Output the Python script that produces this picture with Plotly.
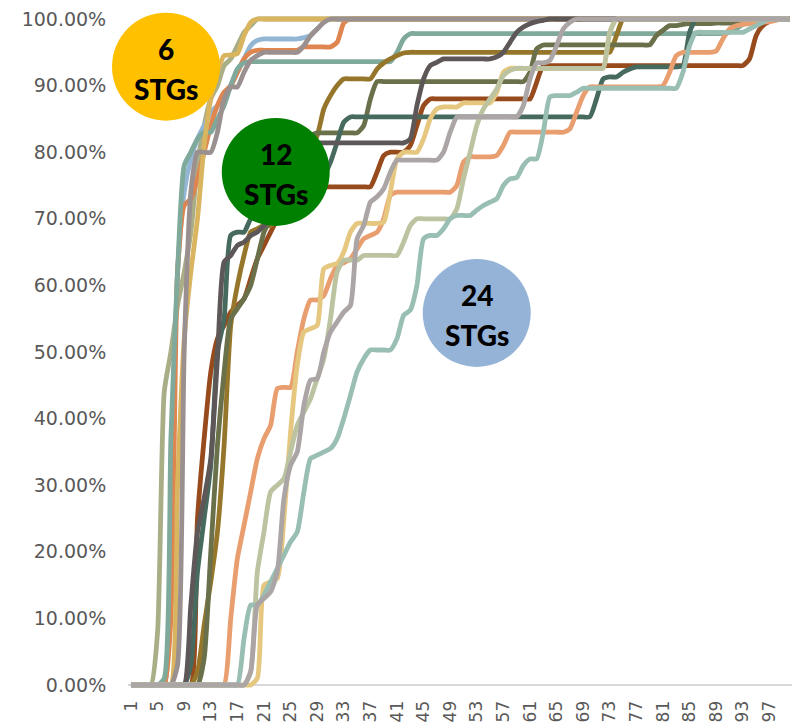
import plotly.graph_objects as go

# Run index along the x axis (category positions 1..100)
steps = list(range(1, 101))

x_ticks = [1, 5, 9, 13, 17, 21, 25, 29, 33, 37, 41, 45, 49, 53, 57, 61, 65, 69, 73, 77, 81, 85, 89, 93, 97]
y_ticks = [0, 10, 20, 30, 40, 50, 60, 70, 80, 90, 100]
y_tick_text = ["0.00%", "10.00%", "20.00%", "30.00%", "40.00%", "50.00%",
               "60.00%", "70.00%", "80.00%", "90.00%", "100.00%"]

# ---- 6 STGs ----
sage_6 = [
    0, 0, 0, 0, 8, 44, 50, 57, 62, 68,
    78, 84, 88, 90, 93, 94, 96, 98, 99, 100,
    100, 100, 100, 100, 100, 100, 100, 100, 100, 100,
    100, 100, 100, 100, 100, 100, 100, 100, 100, 100,
    100, 100, 100, 100, 100, 100, 100, 100, 100, 100,
    100, 100, 100, 100, 100, 100, 100, 100, 100, 100,
    100, 100, 100, 100, 100, 100, 100, 100, 100, 100,
    100, 100, 100, 100, 100, 100, 100, 100, 100, 100,
    100, 100, 100, 100, 100, 100, 100, 100, 100, 100,
    100, 100, 100, 100, 100, 100, 100, 100, 100, 100,
]
blue_6 = [
    0, 0, 0, 0, 0, 0, 30, 62, 74, 79,
    82, 84, 86, 87, 88, 90, 92, 94, 96, 96.8,
    97, 97, 97, 97, 97, 97, 97.2, 97.5, 98.5, 99.5,
    100, 100, 100, 100, 100, 100, 100, 100, 100, 100,
    100, 100, 100, 100, 100, 100, 100, 100, 100, 100,
    100, 100, 100, 100, 100, 100, 100, 100, 100, 100,
    100, 100, 100, 100, 100, 100, 100, 100, 100, 100,
    100, 100, 100, 100, 100, 100, 100, 100, 100, 100,
    100, 100, 100, 100, 100, 100, 100, 100, 100, 100,
    100, 100, 100, 100, 100, 100, 100, 100, 100, 100,
]
orange_6 = [
    0, 0, 0, 0, 0, 0, 10, 62, 72, 73,
    76, 80, 84, 87, 89, 90, 92, 94, 95, 95.3,
    95.3, 95.3, 95.3, 95.3, 95.3, 95.3, 95.8, 95.8, 95.8, 95.8,
    95.8, 96.5, 99.4, 100, 100, 100, 100, 100, 100, 100,
    100, 100, 100, 100, 100, 100, 100, 100, 100, 100,
    100, 100, 100, 100, 100, 100, 100, 100, 100, 100,
    100, 100, 100, 100, 100, 100, 100, 100, 100, 100,
    100, 100, 100, 100, 100, 100, 100, 100, 100, 100,
    100, 100, 100, 100, 100, 100, 100, 100, 100, 100,
    100, 100, 100, 100, 100, 100, 100, 100, 100, 100,
]
teal_6 = [
    0, 0, 0, 0, 0, 1, 37, 62, 78, 80,
    82, 83, 83, 85, 87, 90, 92.5, 93.4, 93.6, 93.6,
    93.6, 93.6, 93.6, 93.6, 93.6, 93.6, 93.6, 93.6, 93.6, 93.6,
    93.6, 93.6, 93.6, 93.6, 93.6, 93.6, 93.6, 93.6, 93.6, 93.6,
    95, 97, 97.8, 97.8, 97.8, 97.8, 97.8, 97.8, 97.8, 97.8,
    97.8, 97.8, 97.8, 97.8, 97.8, 97.8, 97.8, 97.8, 97.8, 97.8,
    97.8, 97.8, 97.8, 97.8, 97.8, 97.8, 97.8, 97.8, 97.8, 97.8,
    97.8, 97.8, 97.8, 97.8, 97.8, 97.8, 97.8, 97.8, 97.8, 97.8,
    97.8, 97.8, 97.8, 97.8, 97.8, 97.8, 97.8, 97.8, 97.8, 97.8,
    98, 98.5, 99.2, 99.5, 99.7, 99.9, 100, 100, 100, 100,
]
gold_6 = [
    0, 0, 0, 0, 0, 0, 0, 30, 52, 62,
    70, 81, 88, 92, 94.5, 94.6, 94.8, 97.5, 99.5, 100,
    100, 100, 100, 100, 100, 100, 100, 100, 100, 100,
    100, 100, 100, 100, 100, 100, 100, 100, 100, 100,
    100, 100, 100, 100, 100, 100, 100, 100, 100, 100,
    100, 100, 100, 100, 100, 100, 100, 100, 100, 100,
    100, 100, 100, 100, 100, 100, 100, 100, 100, 100,
    100, 100, 100, 100, 100, 100, 100, 100, 100, 100,
    100, 100, 100, 100, 100, 100, 100, 100, 100, 100,
    100, 100, 100, 100, 100, 100, 100, 100, 100, 100,
]
gray_6 = [
    0, 0, 0, 0, 0, 0, 0, 3, 50, 74,
    80, 80, 80, 83, 88, 89.8, 89.8, 92, 93.8, 94.5,
    95, 95, 95, 95, 95, 95, 96, 97.5, 98.5, 99.5,
    100, 100, 100, 100, 100, 100, 100, 100, 100, 100,
    100, 100, 100, 100, 100, 100, 100, 100, 100, 100,
    100, 100, 100, 100, 100, 100, 100, 100, 100, 100,
    100, 100, 100, 100, 100, 100, 100, 100, 100, 100,
    100, 100, 100, 100, 100, 100, 100, 100, 100, 100,
    100, 100, 100, 100, 100, 100, 100, 100, 100, 100,
    100, 100, 100, 100, 100, 100, 100, 100, 100, 100,
]

# ---- 12 STGs ----
brown_12 = [
    0, 0, 0, 0, 0, 0, 0, 0, 0, 0,
    25, 37, 47, 52, 54, 56, 57, 58, 61, 64,
    66, 68, 70, 72, 74, 74.8, 74.8, 74.8, 74.8, 74.8,
    74.8, 74.8, 74.8, 74.8, 74.8, 74.8, 74.8, 77, 79.5, 80,
    80, 80, 81, 84, 87, 88, 88, 88, 88, 88,
    88, 88, 88, 88, 88, 88, 88, 88, 88, 88,
    88, 90.5, 93, 93, 93, 93, 93, 93, 93, 93,
    93, 93, 93, 93, 93, 93, 93, 93, 93, 93,
    93, 93, 93, 93, 93, 93, 93, 93, 93, 93,
    93, 93, 93, 94, 97.5, 99, 99.6, 100, 100, 100,
]
mustard_12 = [
    0, 0, 0, 0, 0, 0, 0, 0, 0, 0,
    2, 9, 15.5, 23, 36, 54, 60, 64.5, 68, 68.5,
    69, 69, 70, 73, 76, 78, 80, 81, 82.5, 86.5,
    88.5, 90, 91, 91, 91, 91, 91, 92.5, 93.4, 94,
    94.5, 94.9, 95, 95, 95, 95, 95, 95, 95, 95,
    95, 95, 95, 95, 95, 95, 95, 95, 95, 95,
    95, 95, 95, 95, 95, 95, 95, 95, 95, 95,
    95, 95, 95, 97.5, 100, 100, 100, 100, 100, 100,
    100, 100, 100, 100, 100, 100, 100, 100, 100, 100,
    100, 100, 100, 100, 100, 100, 100, 100, 100, 100,
]
olive_12 = [
    0, 0, 0, 0, 0, 0, 0, 0, 0, 0,
    0, 4, 20, 36, 47, 55, 56.5, 58, 60, 64,
    68, 70, 73, 76, 78, 80, 81.5, 82.5, 82.9, 82.9,
    82.9, 82.9, 82.9, 82.9, 82.9, 84, 88, 90.6, 90.6, 90.6,
    90.6, 90.6, 90.6, 90.6, 90.6, 90.6, 90.6, 90.6, 90.6, 90.6,
    90.6, 90.6, 90.6, 90.6, 90.6, 90.6, 90.6, 90.6, 90.6, 90.6,
    92, 95.5, 96.1, 96.1, 96.1, 96.1, 96.1, 96.1, 96.1, 96.1,
    96.1, 96.1, 96.1, 96.1, 96.1, 96.1, 96.1, 96.1, 96.1, 97.5,
    98.3, 99, 99, 99.2, 99.3, 99.3, 99.3, 99.3, 99.4, 99.4,
    99.4, 99.4, 99.5, 99.5, 99.5, 99.6, 100, 100, 100, 100,
]
dteal_12 = [
    0, 0, 0, 0, 0, 0, 0, 0, 0, 3,
    17, 25, 33, 50, 55, 67.5, 68, 68, 70, 71,
    72, 72.5, 73, 73.5, 74, 74.5, 75, 75.5, 76, 76.5,
    78.5, 81.5, 84.5, 85.3, 85.3, 85.3, 85.3, 85.3, 85.3, 85.3,
    85.3, 85.3, 85.3, 85.3, 85.3, 85.3, 85.3, 85.3, 85.3, 85.3,
    85.3, 85.3, 85.3, 85.3, 85.3, 85.3, 85.3, 85.3, 85.3, 85.3,
    85.3, 85.3, 85.3, 85.3, 85.3, 85.3, 85.3, 85.3, 85.3, 85.3,
    88, 91, 91.3, 91.3, 92, 92.5, 92.8, 92.8, 92.8, 92.8,
    92.8, 92.8, 92.8, 93, 98, 100, 100, 100, 100, 100,
    100, 100, 100, 100, 100, 100, 100, 100, 100, 100,
]
charcoal_12 = [
    0, 0, 0, 0, 0, 0, 0, 0, 0, 12,
    23, 28, 34, 49, 63.5, 64.5, 66, 66.5, 67.5, 68,
    69, 70, 72, 75, 78, 80, 81, 81.4, 81.4, 81.4,
    81.4, 81.4, 81.4, 81.4, 81.4, 81.4, 81.4, 81.4, 81.4, 81.4,
    81.4, 81.4, 82, 87, 91, 93, 93.5, 94, 94, 94,
    94, 94, 94, 94, 94, 94.3, 95, 96.5, 98, 98.8,
    99.3, 99.6, 99.8, 100, 100, 100, 100, 100, 100, 100,
    100, 100, 100, 100, 100, 100, 100, 100, 100, 100,
    100, 100, 100, 100, 100, 100, 100, 100, 100, 100,
    100, 100, 100, 100, 100, 100, 100, 100, 100, 100,
]

# ---- 24 STGs ----
lorange_24 = [
    0, 0, 0, 0, 0, 0, 0, 0, 0, 0,
    0, 0, 0, 0, 0, 10, 19, 24, 29, 34,
    37, 39, 44.5, 44.7, 44.7, 50, 55, 57.8, 57.8, 58.5,
    61, 63, 63.4, 64, 65.5, 67, 67.5, 68, 70, 73.5,
    74, 74, 74, 74, 74, 74, 74, 74, 74, 75,
    78.5, 79.3, 79.3, 79.3, 79.3, 79.5, 81, 83, 83, 83,
    83, 83, 83, 83, 83, 83, 83.5, 86, 88.5, 89.8,
    89.8, 89.8, 89.8, 89.8, 89.8, 89.8, 89.8, 89.8, 89.8, 89.8,
    90, 92, 94.5, 95, 95, 95, 95, 95, 95.2, 97,
    98.5, 99, 99.2, 99.3, 99.4, 99.5, 99.6, 99.8, 100, 100,
]
lgold_24 = [
    0, 0, 0, 0, 0, 0, 0, 0, 0, 0,
    0, 0, 0, 0, 0, 0, 0, 0, 0, 1,
    15, 15.5, 16, 25, 38, 48, 53, 53.5, 54, 62.5,
    63, 63.3, 65, 68, 69.3, 69.3, 69.3, 69.3, 69.5, 74,
    79, 80, 80, 80, 82, 85, 86.5, 86.8, 86.8, 86.8,
    87.4, 87.4, 87.4, 87.4, 87.4, 89, 92, 92.6, 92.6, 92.6,
    92.6, 92.6, 92.6, 92.6, 92.6, 92.6, 92.6, 92.6, 92.6, 92.6,
    92.6, 92.6, 98, 100, 100, 100, 100, 100, 100, 100,
    100, 100, 100, 100, 100, 100, 100, 100, 100, 100,
    100, 100, 100, 100, 100, 100, 100, 100, 100, 100,
]
lsage_24 = [
    0, 0, 0, 0, 0, 0, 0, 0, 0, 0,
    0, 0, 0, 0, 0, 0, 0, 0, 2, 17,
    23, 29, 30, 31, 35, 39, 41, 43, 46, 49,
    55, 62, 63.8, 63.8, 63.8, 64.5, 64.5, 64.5, 64.5, 64.5,
    64.5, 66.5, 69, 70, 70, 70, 70, 70, 70, 71.5,
    76, 80, 84, 86.5, 88, 89.5, 91.5, 92.3, 92.6, 92.6,
    92.6, 92.6, 92.6, 92.6, 92.6, 92.6, 92.6, 92.6, 92.6, 92.6,
    92.6, 92.6, 98, 100, 100, 100, 100, 100, 100, 100,
    100, 100, 100, 100, 100, 100, 100, 100, 100, 100,
    100, 100, 100, 100, 100, 100, 100, 100, 100, 100,
]
lteal_24 = [
    0, 0, 0, 0, 0, 0, 0, 0, 0, 0,
    0, 0, 0, 0, 0, 0, 0, 7, 12, 12,
    13.5, 15.5, 17.5, 19.5, 21.5, 23, 29, 34, 34.5, 35,
    35.5, 37, 40, 43.5, 47, 49, 50.3, 50.3, 50.3, 50.3,
    52, 55.5, 56.3, 60, 67, 67.5, 67.5, 68.5, 70, 70.5,
    70.5, 70.5, 71.3, 72, 72.5, 73, 75, 76, 76.2, 78,
    79, 79, 83, 88.3, 88.5, 88.5, 88.5, 89, 89.6, 89.6,
    89.6, 89.6, 89.6, 89.6, 89.6, 89.6, 89.6, 89.6, 89.6, 89.6,
    89.6, 89.6, 89.6, 92, 96, 98, 98, 98, 98, 98,
    98, 98, 98, 98.5, 99, 99.5, 100, 100, 100, 100,
]
lgray_24 = [
    0, 0, 0, 0, 0, 0, 0, 0, 0, 0,
    0, 0, 0, 0, 0, 0, 0, 0, 2, 12,
    13, 14, 17, 28, 33, 35, 42, 45.8, 46, 50,
    53, 54.5, 56, 57, 67, 69, 72.5, 73.3, 74.5, 77,
    78.8, 78.8, 78.8, 78.8, 78.8, 78.8, 78.8, 80, 83, 85.3,
    85.3, 85.3, 85.3, 85.3, 85.3, 85.3, 85.3, 85.3, 85.3, 87,
    91, 93.4, 93.4, 93.8, 96, 98.5, 99.5, 100, 100, 100,
    100, 100, 100, 100, 100, 100, 100, 100, 100, 100,
    100, 100, 100, 100, 100, 100, 100, 100, 100, 100,
    100, 100, 100, 100, 100, 100, 100, 100, 100, 100,
]

series = [
    ("sage_6", sage_6, "#A9AE87"),
    ("blue_6", blue_6, "#93B6D4"),
    ("orange_6", orange_6, "#DE8550"),
    ("teal_6", teal_6, "#7EA99B"),
    ("gold_6", gold_6, "#DAB560"),
    ("gray_6", gray_6, "#9A9090"),
    ("brown_12", brown_12, "#974A1C"),
    ("mustard_12", mustard_12, "#96762A"),
    ("olive_12", olive_12, "#69704A"),
    ("dteal_12", dteal_12, "#476A5F"),
    ("charcoal_12", charcoal_12, "#5E5758"),
    ("lorange_24", lorange_24, "#E99E70"),
    ("lgold_24", lgold_24, "#E6C780"),
    ("lsage_24", lsage_24, "#BBC3A0"),
    ("lteal_24", lteal_24, "#99BEB3"),
    ("lgray_24", lgray_24, "#ABA5A5"),
]

fig = go.Figure()
for name, values, color in series:
    fig.add_trace(go.Scatter(
        x=steps, y=values, mode="lines", name=name,
        line=dict(color=color, width=4.8, shape="spline", smoothing=0.6),
        showlegend=False, hoverinfo="skip",
    ))

# Group badges in paper coordinates so they may overhang the plot edge:
# (label, centre x, centre y, fill colour)
badges = [
    ("6", 0.0572, 0.9233, "#FFC000"),
    ("12", 0.2225, 0.7671, "#008000"),
    ("24", 0.5252, 0.5579, "#95B3D7"),
]
rx, ry = 0.0813, 0.0801
badge_font = dict(family="Lato", size=28, color="black", weight=900)
for label, cx, cy, fill in badges:
    fig.add_shape(type="circle", xref="paper", yref="paper",
                  x0=cx - rx, x1=cx + rx, y0=cy - ry, y1=cy + ry,
                  fillcolor=fill, line=dict(width=0), layer="above")
    fig.add_annotation(xref="paper", yref="paper", x=cx, y=cy + 0.026,
                       text=label, showarrow=False, font=badge_font,
                       xanchor="center", yanchor="middle")
    fig.add_annotation(xref="paper", yref="paper", x=cx, y=cy - 0.033,
                       text="STGs", showarrow=False, font=badge_font,
                       xanchor="center", yanchor="middle")

fig.update_layout(
    template="none",
    width=792, height=725,
    margin=dict(l=128, r=0, t=15, b=36),
    paper_bgcolor="white", plot_bgcolor="white",
    showlegend=False,
    xaxis=dict(
        range=[0.55, 100.4], tickmode="array", tickvals=x_ticks,
        ticktext=[str(v) for v in x_ticks], tickangle=-90,
        showgrid=False, zeroline=False, showline=False,
        ticks="outside", ticklen=4, tickcolor="rgba(0,0,0,0)",
        tickfont=dict(family="DejaVu Sans", size=17, color="#595959"),
        automargin=False,
    ),
    yaxis=dict(
        range=[-0.6, 100.6], tickmode="array", tickvals=y_ticks,
        ticktext=y_tick_text,
        showgrid=False, zeroline=True, zerolinecolor="#D9D9D9", zerolinewidth=2,
        showline=False,
        ticks="outside", ticklen=17, tickcolor="rgba(0,0,0,0)",
        tickfont=dict(family="DejaVu Sans", size=19, color="#595959"),
        automargin=False,
    ),
)

fig.write_html("out.html")
